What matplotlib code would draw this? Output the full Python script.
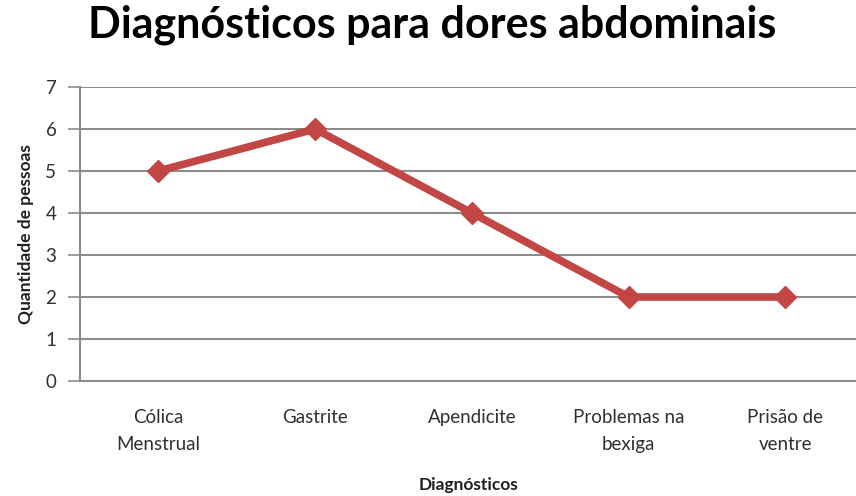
import matplotlib.pyplot as plt

# Data
categorias = ["Cólica\nMenstrual", "Gastrite", "Apendicite", "Problemas na\nbexiga", "Prisão de\nventre"]
pessoas = [5, 6, 4, 2, 2]
yticks = [0, 1, 2, 3, 4, 5, 6, 7]

plt.rcParams['font.family'] = ['Lato', 'DejaVu Sans']

fig = plt.figure(figsize=(8.56, 4.96), dpi=100)
ax = fig.add_axes([80 / 856, 0.2319, 1 - 80 / 856, 0.5927])

x = list(range(len(categorias)))
ax.plot(x, pessoas, color='#C24744', linewidth=5.5, marker='D', markersize=11,
        markerfacecolor='#C24744', markeredgecolor='#C24744', solid_capstyle='round', zorder=3)

ax.set_xlim(-0.5, 4.45)
ax.set_ylim(0, 7)
ax.set_yticks(yticks)
ax.set_xticks(x)
ax.set_xticklabels(categorias, fontsize=13.5, color='#303030', linespacing=1.75)
ax.tick_params(axis='y', labelsize=13.5, labelcolor='#303030', length=9, color='#8c8c8c', width=1.2, pad=8)
ax.tick_params(axis='x', length=0, pad=20)

ax.grid(axis='y', color='#8c8c8c', linewidth=1.5)
ax.set_axisbelow(True)
for side in ['top', 'right']:
    ax.spines[side].set_visible(False)
ax.spines['left'].set_color('#8c8c8c')
ax.spines['left'].set_linewidth(1.5)
ax.spines['bottom'].set_color('#8c8c8c')
ax.spines['bottom'].set_linewidth(1.5)

ax.set_ylabel("Quantidade de pessoas", fontsize=12.5, fontweight='bold', color='#202020', labelpad=8)
ax.set_xlabel("Diagnósticos", fontsize=12.5, fontweight='bold', color='#202020', labelpad=17)
fig.suptitle("Diagnósticos para dores abdominais", fontsize=31, fontweight='bold', x=0.505, y=0.99, va='top')

fig.savefig("out.png", dpi=100)
